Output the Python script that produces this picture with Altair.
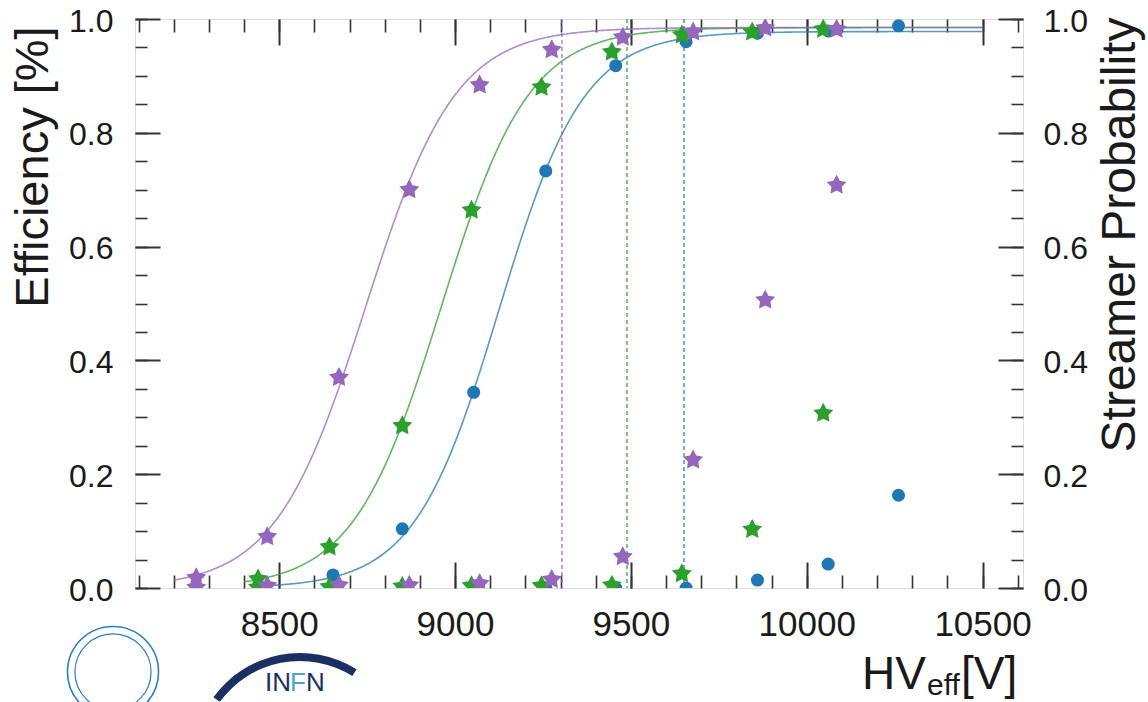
import altair as alt
import pandas as pd

# ---------------- data ----------------
SERIES = ["A", "B", "C"]
COLORS = ["#1f77b4", "#2ca02c", "#9467bd"]
STAR = ("M0,-1L0.306,-0.421L0.951,-0.309L0.495,0.161L0.588,0.809L0,0.52"
        "L-0.588,0.809L-0.495,0.161L-0.951,-0.309L-0.306,-0.421Z")
SHAPES = ["circle", STAR, STAR]
SIZES = [170, 440, 440]

HV_A = [8653, 8850, 9053, 9258, 9457, 9657, 9860, 10061, 10261]
EFF_A = [0.023, 0.104, 0.344, 0.733, 0.918, 0.960, 0.975, 0.979, 0.988]
STR_A = [0.0, 0.0, 0.0, 0.0, 0.0, 0.0, 0.014, 0.042, 0.163]

HV_B = [8440, 8643, 8850, 9047, 9246, 9446, 9645, 9845, 10047]
EFF_B = [0.016, 0.072, 0.285, 0.664, 0.880, 0.942, 0.972, 0.977, 0.982]
STR_B = [0.001, 0.002, 0.003, 0.004, 0.004, 0.005, 0.025, 0.103, 0.307]

HV_C = [8264, 8466, 8670, 8870, 9070, 9275, 9477, 9677, 9882, 10085]
EFF_C = [0.018, 0.090, 0.370, 0.700, 0.884, 0.946, 0.968, 0.977, 0.984, 0.982]
STR_C = [0.001, 0.004, 0.005, 0.005, 0.008, 0.015, 0.055, 0.225, 0.506, 0.708]

# sigmoid fit parameters (plateau, slope, HV at 50%) and fit ranges
FIT_EMAX = [0.978, 0.985, 0.985]
FIT_LAMBDA = [0.0083, 0.0080, 0.0078]
FIT_HV50 = [9125, 8960, 8745]
FIT_START = [8450, 8400, 8200]
FIT_STOP = 10500

# working points (dashed vertical lines)
WP = [9651, 9489, 9304]

# axes
X_DOMAIN = [8090, 10615]
Y_DOMAIN = [0, 1]
X_LABELS = [8500, 9000, 9500, 10000, 10500]
X_MINOR = [8100, 8200, 8300, 8400, 8500, 8600, 8700, 8800, 8900, 9000, 9100,
           9200, 9300, 9400, 9500, 9600, 9700, 9800, 9900, 10000, 10100,
           10200, 10300, 10400, 10500, 10600]
Y_LABELS = [0.0, 0.2, 0.4, 0.6, 0.8, 1.0]
Y_MINOR = [0.0, 0.05, 0.1, 0.15, 0.2, 0.25, 0.3, 0.35, 0.4, 0.45, 0.5, 0.55,
           0.6, 0.65, 0.7, 0.75, 0.8, 0.85, 0.9, 0.95, 1.0]

EFF_TITLE = ["Efficiency [%]"]
STR_TITLE = ["Streamer Probability"]
HV_TITLE = ["HV"]
HV_SUB = ["eff"]
HV_UNIT = ["[V]"]
INFN_PARTS = ["IN", "F", "N"]

FONT = "Liberation Sans, Arial, Helvetica, sans-serif"
NARROW = "Liberation Sans Narrow, Arial Narrow, Liberation Sans, sans-serif"
INK = "#1a1a1a"

# ---------------- tables ----------------
rows = []
for s, hvs, effs, strs in zip(SERIES, [HV_A, HV_B, HV_C], [EFF_A, EFF_B, EFF_C], [STR_A, STR_B, STR_C]):
    for h, e, p in zip(hvs, effs, strs):
        rows.append({"series": s, "hv": h, "eff": e, "strm": p})
pts = pd.DataFrame(rows)
wp_df = pd.DataFrame({"series": SERIES, "wp": WP})

xscale = alt.Scale(domain=X_DOMAIN, nice=False, zero=False)
yscale = alt.Scale(domain=Y_DOMAIN, nice=False, zero=False)
color_enc = alt.Color("series:N", scale=alt.Scale(domain=SERIES, range=COLORS), legend=None)
shape_enc = alt.Shape("series:N", scale=alt.Scale(domain=SERIES, range=SHAPES), legend=None)
size_enc = alt.Size("series:N", scale=alt.Scale(type="ordinal", domain=SERIES, range=SIZES),
                    legend=None)

layers = []

# fit curves
for i, s in enumerate(SERIES):
    expr = f"{FIT_EMAX[i]}/(1+exp(-{FIT_LAMBDA[i]}*(datum.hv-{FIT_HV50[i]})))"
    layers.append(
        alt.Chart(alt.sequence(FIT_START[i], FIT_STOP + 1, 5, as_="hv"))
        .transform_calculate(eff=expr, series=f"'{s}'")
        .mark_line(strokeWidth=1.6, opacity=0.75, clip=True)
        .encode(
            x=alt.X("hv:Q", scale=xscale, axis=None),
            y=alt.Y("eff:Q", scale=yscale, axis=None),
            color=color_enc,
        )
    )

# working point dashed lines
layers.append(
    alt.Chart(wp_df)
    .mark_rule(strokeDash=[4, 3], strokeWidth=1.5, opacity=0.8)
    .encode(x=alt.X("wp:Q", scale=xscale, axis=None), color=color_enc)
)

# efficiency points
layers.append(
    alt.Chart(pts)
    .mark_point(filled=True, opacity=1, clip=True)
    .encode(
        x=alt.X("hv:Q", scale=xscale, axis=None),
        y=alt.Y("eff:Q", scale=yscale, axis=None),
        color=color_enc, shape=shape_enc, size=size_enc,
    )
)

# streamer probability points
layers.append(
    alt.Chart(pts)
    .mark_point(filled=True, opacity=1, clip=True)
    .encode(
        x=alt.X("hv:Q", scale=xscale, axis=None),
        y=alt.Y("strm:Q", scale=yscale, axis=None),
        color=color_enc, shape=shape_enc, size=size_enc,
    )
)

# ---------------- axes (labels + inward ticks) ----------------
anchor = pd.DataFrame({"hv": [8500], "v": [0.5]})


def x_layer(axis):
    return alt.Chart(anchor).mark_point(opacity=0).encode(
        x=alt.X("hv:Q", scale=xscale, axis=axis),
        y=alt.Y("v:Q", scale=yscale, axis=None),
    )


def y_layer(axis):
    return alt.Chart(anchor).mark_point(opacity=0).encode(
        x=alt.X("hv:Q", scale=xscale, axis=None),
        y=alt.Y("v:Q", scale=yscale, axis=axis),
    )


def tick_axis(orient, values, length, width):
    return alt.Axis(orient=orient, values=values, offset=-length, tickSize=length,
                    tickWidth=width, tickColor="#333333", labels=False, domain=False,
                    grid=False, title=None)


layers.append(x_layer(alt.Axis(orient="bottom", values=X_LABELS, format="d", ticks=False,
                               tickSize=0, domain=False, grid=False, labelPadding=19,
                               labelFont=NARROW, labelFontSize=35, labelColor=INK,
                               labelFlush=False, labelOverlap=False, title=None)))
layers.append(x_layer(tick_axis("bottom", X_LABELS, 26, 2)))
layers.append(x_layer(tick_axis("bottom", X_MINOR, 13, 1.6)))
layers.append(x_layer(tick_axis("top", X_LABELS, 26, 2)))
layers.append(x_layer(tick_axis("top", X_MINOR, 13, 1.6)))

for orient, pad in (("left", 22), ("right", 20)):
    layers.append(y_layer(alt.Axis(orient=orient, values=Y_LABELS, format=".1f", ticks=False,
                                   tickSize=0, domain=False, grid=False, labelPadding=pad,
                                   labelFont=FONT, labelFontSize=32, labelColor=INK,
                                   labelFlush=False, labelOverlap=False, labelOffset=2,
                                   title=None)))
    layers.append(y_layer(tick_axis(orient, Y_LABELS, 25, 2)))
    layers.append(y_layer(tick_axis(orient, Y_MINOR, 12, 1.6)))

# ---------------- titles ----------------
layers.append(
    alt.Chart(pd.DataFrame({"t": EFF_TITLE})).mark_text(
        angle=270, align="center", baseline="alphabetic", font=FONT, fontSize=47, color=INK
    ).encode(text="t:N", x=alt.value(-87), y=alt.value(148))
)
layers.append(
    alt.Chart(pd.DataFrame({"t": STR_TITLE})).mark_text(
        angle=270, align="center", baseline="alphabetic", font=FONT, fontSize=48, color=INK
    ).encode(text="t:N", x=alt.value(1000), y=alt.value(216))
)
layers.append(
    alt.Chart(pd.DataFrame({"t": HV_TITLE})).mark_text(
        align="left", baseline="alphabetic", font=FONT, fontSize=46, color=INK
    ).encode(text="t:N", x=alt.value(727), y=alt.value(670))
)
layers.append(
    alt.Chart(pd.DataFrame({"t": HV_SUB})).mark_text(
        align="left", baseline="alphabetic", font=FONT, fontSize=30, color=INK
    ).encode(text="t:N", x=alt.value(792), y=alt.value(676))
)
layers.append(
    alt.Chart(pd.DataFrame({"t": HV_UNIT})).mark_text(
        align="left", baseline="alphabetic", font=FONT, fontSize=46, color=INK
    ).encode(text="t:N", x=alt.value(826), y=alt.value(670))
)

# ---------------- logos (approximate) ----------------
logo = pd.DataFrame({"k": [1]})
layers.append(
    alt.Chart(logo).mark_point(shape="circle", filled=False, size=8300, stroke="#2b7fc1",
                               strokeWidth=1.6, opacity=1)
    .encode(x=alt.value(-22), y=alt.value(653))
)
layers.append(
    alt.Chart(logo).mark_point(shape="circle", filled=False, size=5800, stroke="#2b7fc1",
                               strokeWidth=1.2, opacity=1)
    .encode(x=alt.value(-22), y=alt.value(653))
)
layers.append(
    alt.Chart(logo).mark_arc(radius=107, radius2=99, theta=5.34, theta2=6.84, color="#1b2f63")
    .encode(x=alt.value(165), y=alt.value(741))
)
for txt, xv, col in zip(INFN_PARTS, [130, 155, 171], ["#1b2f63", "#4aa3d3", "#1b2f63"]):
    layers.append(
        alt.Chart(pd.DataFrame({"t": [txt]})).mark_text(
            align="left", baseline="alphabetic", font=FONT, fontSize=26, color=col
        ).encode(text="t:N", x=alt.value(xv), y=alt.value(672))
    )

chart = (
    alt.layer(*layers)
    .resolve_axis(x="independent", y="independent")
    .properties(
        width=888, height=569,
        autosize=alt.AutoSizeParams(type="none"),
        padding={"left": 135, "top": 19, "right": 125, "bottom": 114},
    )
    .configure_view(stroke="#5a5a5a", strokeWidth=2.5)
    .configure(background="white")
)

chart.save("out.html", embed_options={"renderer": "svg", "actions": False})
